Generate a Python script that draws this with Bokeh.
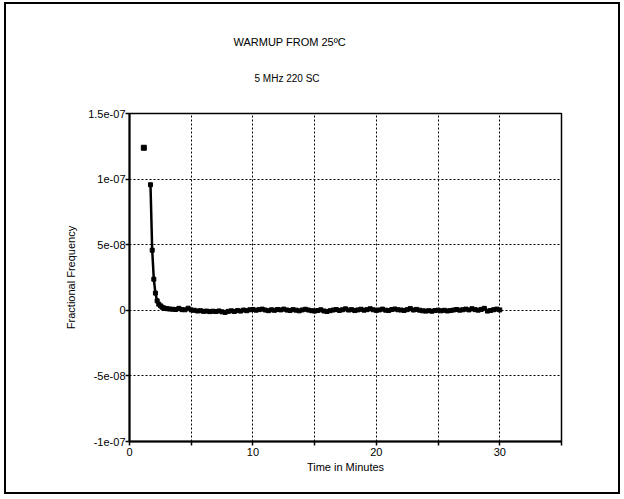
from bokeh.plotting import figure
from bokeh.models import Range1d, FixedTicker, Title
from bokeh.embed import file_html
from bokeh.resources import INLINE

# ---- data (fractional frequency in units of 1e-9) ----
first_t = [1.16]
first_v = [123.9]

trans_t = [1.70, 1.84, 1.97, 2.10, 2.24, 2.37, 2.51, 2.64, 2.78, 2.91, 3.05]
trans_v = [95.7, 45.8, 23.7, 13.1, 7.2, 4.7, 3.4, 2.4, 1.8, 1.4, 1.2]

flat_t = [
    3.25, 3.5, 3.75, 4.0, 4.25, 4.5, 4.75, 5.0, 5.25, 5.5, 5.75, 6.0,
    6.25, 6.5, 6.75, 7.0, 7.25, 7.5, 7.75, 8.0, 8.25, 8.5, 8.75, 9.0,
    9.25, 9.5, 9.75, 10.0, 10.25, 10.5, 10.75, 11.0, 11.25, 11.5, 11.75, 12.0,
    12.25, 12.5, 12.75, 13.0, 13.25, 13.5, 13.75, 14.0, 14.25, 14.5, 14.75, 15.0,
    15.25, 15.5, 15.75, 16.0, 16.25, 16.5, 16.75, 17.0, 17.25, 17.5, 17.75, 18.0,
    18.25, 18.5, 18.75, 19.0, 19.25, 19.5, 19.75, 20.0, 20.25, 20.5, 20.75, 21.0,
    21.25, 21.5, 21.75, 22.0, 22.25, 22.5, 22.75, 23.0, 23.25, 23.5, 23.75, 24.0,
    24.25, 24.5, 24.75, 25.0, 25.25, 25.5, 25.75, 26.0, 26.25, 26.5, 26.75, 27.0,
    27.25, 27.5, 27.75, 28.0, 28.25, 28.5, 28.75, 29.0, 29.25, 29.5, 29.75, 30.0,
]
flat_v = [
    1.0, 0.8, 0.6, 1.5, 0.5, 0.4, 1.6, 0.3, 0.0, -0.5, -0.3, -0.8,
    -0.6, -1.0, -0.7, -0.9, -0.5, -1.2, -1.6, -0.8, -0.4, -0.9, -0.2, -0.6,
    0.2, -0.3, 0.4, 0.6, 0.1, 0.5, 0.9, 0.2, -0.3, 0.4, 0.0, 0.6,
    0.3, 0.9, 0.2, -0.2, 0.5, 0.1, -0.4, 0.3, 0.8, 0.2, -0.3, -0.6,
    -0.2, 0.4, -0.5, -0.9, -0.3, 0.2, 0.6, -0.1, 0.4, 1.1, 0.2, 0.5,
    -0.2, 0.3, 0.8, 0.1, 0.5, 1.2, 0.4, -0.1, 0.3, 0.9, 0.1, -0.2,
    0.6, 1.0, 0.4, 0.2, -0.1, 0.5, 1.3, 0.2, 0.7, 0.1, -0.4, -0.6,
    -0.3, -0.7, -0.2, 0.1, -0.4, 0.0, -0.5, -0.2, 0.2, 0.6, 0.1, 0.4,
    0.9, 0.3, 1.2, 0.5, 0.1, 0.7, 1.5, -0.6, -0.2, 0.4, 0.9, 0.3,
]

x_ticks = [0, 5, 10, 15, 20, 25, 30, 35]
x_tick_labels = ["0", "", "10", "", "20", "", "30", ""]
y_ticks = [-1e-07, -5e-08, 0.0, 5e-08, 1e-07, 1.5e-07]
y_tick_labels = ["-1e-07", "-5e-08", "0", "5e-08", "1e-07", "1.5e-07"]

title_text = "WARMUP FROM 25ºC"
subtitle_text = "5 MHz 220 SC"
x_label = "Time in Minutes"
y_label = "Fractional Frequency"

SCALE = 1e-9
FONT = "Liberation Sans"

# page: 4px left / 2px top margin, 2px border -> canvas origin at (6, 4)
p = figure(width=616, height=492, output_backend="svg", toolbar_location=None,
           x_range=Range1d(0, 35), y_range=Range1d(-1e-07, 1.5e-07),
           min_border_left=123, min_border_right=61,
           min_border_top=109, min_border_bottom=55)
p.styles = {"border": "2px solid black", "margin-left": "4px", "margin-top": "2px"}

p.background_fill_color = "white"
p.border_fill_color = "white"
p.outline_line_color = "black"
p.outline_line_width = 1.5

# axes
p.xaxis.ticker = FixedTicker(ticks=x_ticks)
p.yaxis.ticker = FixedTicker(ticks=y_ticks)
p.xaxis.major_label_overrides = {t: l for t, l in zip(x_ticks, x_tick_labels)}
p.yaxis.major_label_overrides = {t: l for t, l in zip(y_ticks, y_tick_labels)}
for ax in (p.xaxis, p.yaxis):
    ax.axis_line_color = "black"
    ax.axis_line_width = 2
    ax.major_tick_line_color = "black"
    ax.major_tick_line_width = 1.5
    ax.major_tick_out = 4
    ax.major_tick_in = 0
    ax.minor_tick_line_color = None
    ax.major_label_text_font = FONT
    ax.major_label_text_font_size = "11px"
    ax.major_label_text_color = "black"
    ax.axis_label_text_font = FONT
    ax.axis_label_text_font_size = "11px"
    ax.axis_label_text_font_style = "normal"
    ax.axis_label_text_color = "black"
p.xaxis.axis_label = x_label
p.yaxis.axis_label = y_label
p.xaxis.major_label_standoff = 2
p.yaxis.major_label_standoff = 0
p.xaxis.axis_label_standoff = 2
p.yaxis.axis_label_standoff = 8

# grid
p.xgrid.grid_line_color = "black"
p.ygrid.grid_line_color = "black"
p.xgrid.grid_line_dash = "2 2"
p.ygrid.grid_line_dash = "2 2"
p.xgrid.grid_line_width = 1
p.ygrid.grid_line_width = 1

# data
line_t = trans_t + flat_t
line_v = [v * SCALE for v in trans_v + flat_v]
p.line(line_t, line_v, line_color="black", line_width=2.5)
p.scatter(line_t, line_v, marker="square", size=4, color="black")
p.scatter(first_t, [v * SCALE for v in first_v], marker="square", size=5, color="black")

# titles (first added is closest to the frame); a blank spacer first
p.add_layout(Title(text="\u00a0", align="left", standoff=16, text_font=FONT,
                   text_font_size="11px", text_color="white"), "above")
p.add_layout(Title(text=subtitle_text, align="left", offset=125, standoff=0,
                   text_font=FONT, text_font_size="10px",
                   text_font_style="normal", text_color="black"), "above")
p.add_layout(Title(text=title_text, align="left", offset=104, standoff=45,
                   text_font=FONT, text_font_size="11px",
                   text_font_style="normal", text_color="black"), "above")

open("out.html", "w").write(file_html(p, INLINE))
